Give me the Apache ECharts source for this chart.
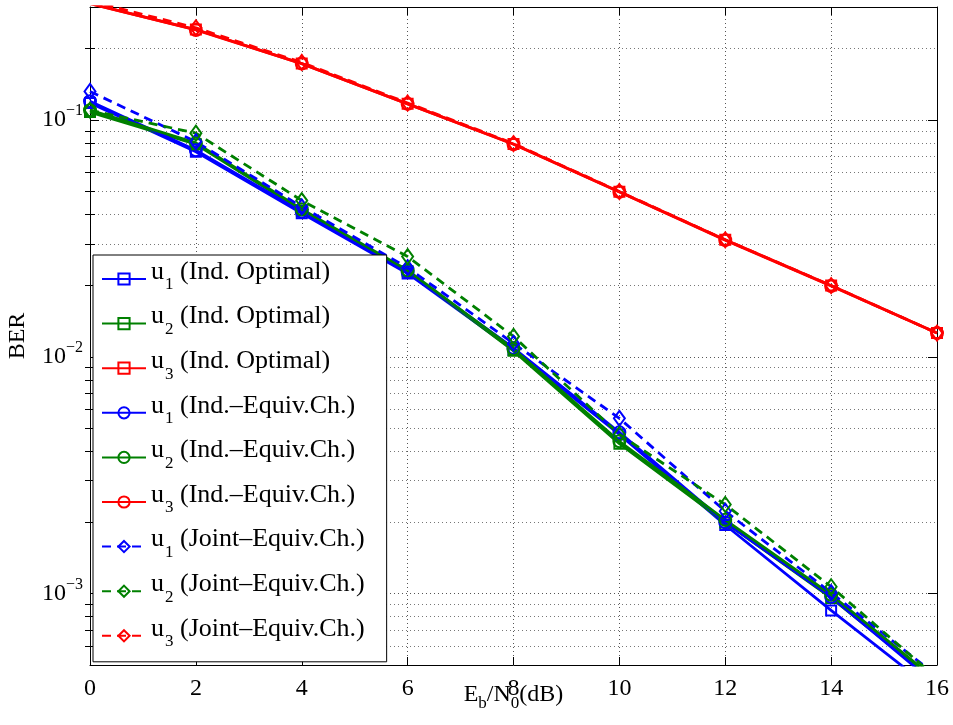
<!DOCTYPE html>
<html>
<head>
<meta charset="utf-8">
<script src="https://cdn.jsdelivr.net/npm/echarts@6/dist/echarts.min.js"></script>
<style>
  html, body { margin: 0; padding: 0; background: #fff; }
  #chart { width: 953px; height: 725px; }
</style>
</head>
<body>
<div id="chart"></div>
<script>
  // Eb/N0 (dB)
  var snr = [0, 2, 4, 6, 8, 10, 12, 14, 16]

  // BER per user / scheme
  var u1Opt   = [0.118, 0.0735, 0.0404, 0.0225, 0.0107, 0.0047, 0.00195, 0.00085, 0.00038]
  var u2Opt   = [0.108, 0.079, 0.0415, 0.0230, 0.0106, 0.0043, 0.0020, 0.00096, 0.00042]
  var u3Opt   = [0.310, 0.241, 0.173, 0.117, 0.0792, 0.0498, 0.0312, 0.0200, 0.0126]
  var u1Equiv = [0.120, 0.0745, 0.0410, 0.0228, 0.0109, 0.0048, 0.0020, 0.00097, 0.00041]
  var u2Equiv = [0.110, 0.080, 0.0420, 0.0232, 0.0108, 0.0044, 0.00205, 0.00099, 0.00043]
  var u3Equiv = [0.310, 0.240, 0.173, 0.117, 0.0790, 0.0497, 0.0311, 0.0199, 0.0126]
  var u1Joint = [0.132, 0.081, 0.0430, 0.0238, 0.0114, 0.0055, 0.00223, 0.00101, 0.00045]
  var u2Joint = [0.110, 0.088, 0.0457, 0.0265, 0.0122, 0.0047, 0.00238, 0.00107, 0.00044]
  var u3Joint = [0.318, 0.245, 0.175, 0.118, 0.0795, 0.0499, 0.0312, 0.0200, 0.0126]

  // y ticks
  var majorTicks = [0.001, 0.01, 0.1]
  var minorTicks = [0.0006, 0.0007, 0.0008, 0.0009,
    0.002, 0.003, 0.004, 0.005, 0.006, 0.007, 0.008, 0.009,
    0.02, 0.03, 0.04, 0.05, 0.06, 0.07, 0.08, 0.09, 0.2]

  var BLUE = '#0000ff', GREEN = '#008000', RED = '#ff0000'
  var FONT = 'Liberation Serif'

  function pairs(arr) {
    return snr.map(function (x, i) { return [x, arr[i]] })
  }

  function mkSeries(name, data, color, symbol, size, dashed) {
    return {
      name: name,
      type: 'line',
      data: pairs(data),
      symbol: symbol,
      symbolSize: size,
      clip: true,
      lineStyle: { color: color, width: 2.8, type: dashed ? [9, 6] : 'solid' },
      itemStyle: { color: 'rgba(0,0,0,0)', borderColor: color, borderWidth: 2 },
      emphasis: { disabled: true },
      animation: false
    }
  }

  var gridDots = { show: true, lineStyle: { color: '#555', width: 1, type: [1, 3] } }

  var myChart = echarts.init(document.getElementById('chart'))
  var option = {
    backgroundColor: '#fff',
    animation: false,
    grid: { left: 90, right: 16, top: 7, bottom: 60, containLabel: false, outerBoundsMode: 'none' },
    legend: {
      orient: 'vertical',
      left: 93,
      top: 255,
      padding: [4, 22, 6, 8],
      itemGap: 4.6,
      itemWidth: 44,
      itemHeight: 14,
      backgroundColor: '#fff',
      borderColor: '#000',
      borderWidth: 1,
      borderRadius: 0,
      formatter: function (name) {
        var m = name.match(/^u(\d) (.*)$/)
        return '{n|u}{s|' + m[1] + '}{n| ' + m[2] + '}'
      },
      textStyle: {
        color: '#000',
        fontFamily: FONT,
        fontSize: 26,
        lineHeight: 36,
        rich: {
          n: { fontFamily: FONT, fontSize: 26, lineHeight: 36, padding: [0, 0, 14, 0], color: '#000' },
          s: { fontFamily: FONT, fontSize: 17, lineHeight: 36, padding: [12, 0, 0, 1], color: '#000' }
        }
      }
    },
    xAxis: [{
      type: 'value',
      position: 'bottom',
      min: 0, max: 16, interval: 2,
      name: '{n|E}{s|b}{n|/N}{s|0}{n|(dB)}',
      nameLocation: 'middle',
      nameGap: 19,
      nameMoveOverlap: false,
      nameTextStyle: {
        verticalAlign: 'top',
        lineHeight: 30,
        rich: {
          n: { fontFamily: FONT, fontSize: 24, lineHeight: 30, padding: [0, 0, 8, 0], color: '#000' },
          s: { fontFamily: FONT, fontSize: 17, lineHeight: 30, padding: [10, 0, 0, 0], color: '#000' }
        }
      },
      axisLine: { show: true, onZero: false, lineStyle: { color: '#000', width: 1 } },
      axisTick: { show: true, inside: true, length: 8, lineStyle: { color: '#000' } },
      axisLabel: { color: '#000', fontFamily: FONT, fontSize: 24, margin: 12 },
      splitLine: gridDots
    }, {
      type: 'value',
      position: 'top',
      min: 0, max: 16, interval: 2,
      axisLine: { show: true, onZero: false, lineStyle: { color: '#000', width: 1 } },
      axisTick: { show: true, inside: true, length: 8, lineStyle: { color: '#000' } },
      axisLabel: { show: false },
      splitLine: { show: false }
    }],
    yAxis: [{
      type: 'log',
      logBase: 10,
      position: 'left',
      min: 0.0005, max: 0.3,
      name: 'BER',
      nameLocation: 'middle',
      nameGap: 60,
      nameMoveOverlap: false,
      nameTextStyle: { color: '#000', fontFamily: FONT, fontSize: 24 },
      axisLine: { show: true, onZero: false, lineStyle: { color: '#000', width: 1 } },
      axisTick: { show: true, inside: true, length: 9, customValues: majorTicks, lineStyle: { color: '#000' } },
      axisLabel: {
        customValues: majorTicks,
        margin: 7,
        lineHeight: 30,
        formatter: function (v) {
          return '{b|10}{e|\u2212' + Math.round(-Math.log10(v)) + '}'
        },
        rich: {
          b: { fontFamily: FONT, fontSize: 24, lineHeight: 30, color: '#000' },
          e: { fontFamily: FONT, fontSize: 16, lineHeight: 30, padding: [0, 0, 18, 0], color: '#000' }
        }
      },
      splitLine: gridDots
    }, {
      type: 'log',
      logBase: 10,
      position: 'left',
      min: 0.0005, max: 0.3,
      axisLine: { show: false },
      axisTick: { show: true, inside: true, length: 5, customValues: minorTicks, lineStyle: { color: '#000' } },
      axisLabel: { show: false },
      splitLine: { show: true, lineStyle: { color: '#777', width: 1, type: [1, 3] } }
    }, {
      type: 'log',
      logBase: 10,
      position: 'right',
      min: 0.0005, max: 0.3,
      axisLine: { show: true, onZero: false, lineStyle: { color: '#000', width: 1 } },
      axisTick: { show: true, inside: true, length: 9, customValues: majorTicks, lineStyle: { color: '#000' } },
      axisLabel: { show: false },
      splitLine: { show: false }
    }, {
      type: 'log',
      logBase: 10,
      position: 'right',
      min: 0.0005, max: 0.3,
      axisLine: { show: false },
      axisTick: { show: true, inside: true, length: 5, customValues: minorTicks, lineStyle: { color: '#000' } },
      axisLabel: { show: false },
      splitLine: { show: false }
    }],
    series: [
      mkSeries('u1 (Ind. Optimal)', u1Opt, BLUE, 'rect', 10, false),
      mkSeries('u2 (Ind. Optimal)', u2Opt, GREEN, 'rect', 10, false),
      mkSeries('u3 (Ind. Optimal)', u3Opt, RED, 'rect', 10, false),
      mkSeries('u1 (Ind.\u2013Equiv.Ch.)', u1Equiv, BLUE, 'circle', 12, false),
      mkSeries('u2 (Ind.\u2013Equiv.Ch.)', u2Equiv, GREEN, 'circle', 12, false),
      mkSeries('u3 (Ind.\u2013Equiv.Ch.)', u3Equiv, RED, 'circle', 12, false),
      mkSeries('u1 (Joint\u2013Equiv.Ch.)', u1Joint, BLUE, 'diamond', [11, 15], true),
      mkSeries('u2 (Joint\u2013Equiv.Ch.)', u2Joint, GREEN, 'diamond', [11, 15], true),
      mkSeries('u3 (Joint\u2013Equiv.Ch.)', u3Joint, RED, 'diamond', [11, 15], true)
    ]
  }
  myChart.setOption(option)
</script>
</body>
</html>
